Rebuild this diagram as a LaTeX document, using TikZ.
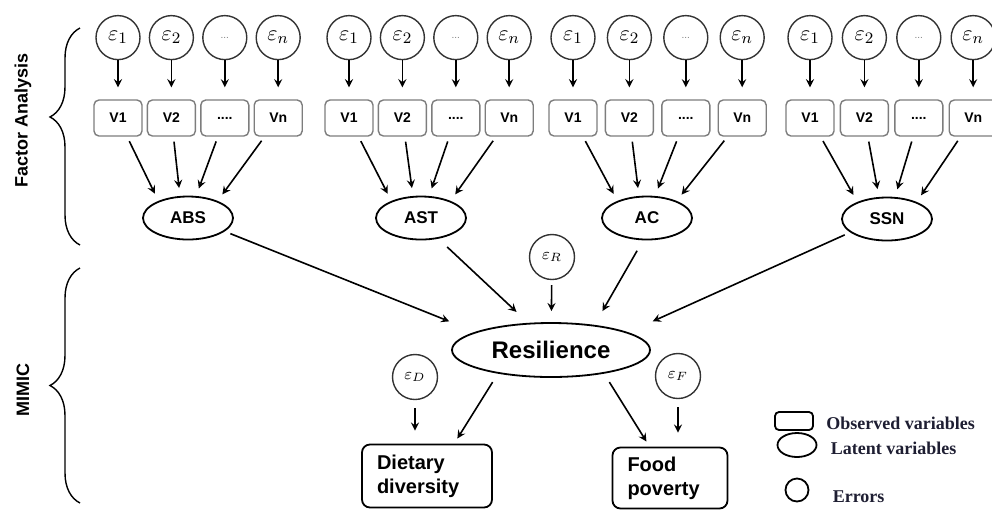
\documentclass[tikz,border=0pt]{standalone}
\usepackage{fontspec}
\setmainfont{Liberation Sans}
\newfontfamily\legendfont{Liberation Serif}
\usepackage{tikz}
\usetikzlibrary{shapes.geometric, arrows, arrows.meta, positioning, calc, decorations.pathreplacing}
\definecolor{boxgray}{RGB}{125,125,125}
\definecolor{legendink}{RGB}{30,30,50}

\begin{document}
\begin{tikzpicture}[
    x=0.5pt, y=-0.5pt,
    obs/.style={draw=boxgray, line width=0.7pt, fill=white, rounded corners=2.5pt, minimum width=24pt, minimum height=18pt, inner sep=0pt, font=\fontsize{7}{8}\selectfont\bfseries},
    err/.style={draw=black!80, line width=0.7pt, circle, minimum size=22pt, inner sep=0pt, font=\fontsize{11}{12}\selectfont},
    smallerr/.style={err, minimum size=22.5pt, font=\fontsize{8.5}{10}\selectfont},
    latent/.style={draw, line width=0.9pt, ellipse, minimum width=45pt, minimum height=21.5pt, inner sep=0pt, font=\fontsize{8.5}{10}\selectfont\bfseries},
    outcome/.style={draw, line width=0.9pt, rounded corners=4pt, align=left, inner xsep=7.5pt, font=\fontsize{10}{12}\selectfont\bfseries},
    side/.style={rotate=90, font=\fontsize{9}{10}\selectfont\bfseries},
    brace/.style={decorate, decoration={brace, amplitude=15pt}, line width=0.7pt},
    legend/.style={inner sep=0pt, text=legendink, font=\legendfont\fontsize{9}{10}\selectfont\bfseries},
    arrow/.style={->, line width=0.8pt, >=stealth},
    feed/.style={arrow, shorten <=2.5pt, shorten >=4pt}
]
    \useasboundingbox (0,0) rectangle (992,511);

    % ABS
    \node[obs] (abs1) at (118,118) {V1};
    \node[obs, right=2pt of abs1] (abs2) {V2};
    \node[obs, right=2pt of abs2] (abs3) {....};
    \node[obs, right=2pt of abs3] (abs4) {Vn};
    \node[err, above=19.5pt of abs1] (eabs1) {$\varepsilon_1$};
    \node[err, above=19.5pt of abs2] (eabs2) {$\varepsilon_2$};
    \node[err, above=19.5pt of abs3] (eabs3) {\textcolor{gray}{\fontsize{5}{5}\selectfont ...}};
    \node[err, above=19.5pt of abs4] (eabs4) {$\varepsilon_n$};
    \node[latent] (abs) at (188,218) {ABS};

    % AST
    \node[obs] (ast1) at (349,118) {V1};
    \node[obs, right=2pt of ast1] (ast2) {V2};
    \node[obs, right=2pt of ast2] (ast3) {....};
    \node[obs, right=2pt of ast3] (ast4) {Vn};
    \node[err, above=19.5pt of ast1] (east1) {$\varepsilon_1$};
    \node[err, above=19.5pt of ast2] (east2) {$\varepsilon_2$};
    \node[err, above=19.5pt of ast3] (east3) {\textcolor{gray}{\fontsize{5}{5}\selectfont ...}};
    \node[err, above=19.5pt of ast4] (east4) {$\varepsilon_n$};
    \node[latent] (ast) at (421,218) {AST};

    % AC
    \node[obs] (ac1) at (573,118) {V1};
    \node[obs, right=3.5pt of ac1] (ac2) {V2};
    \node[obs, right=3.5pt of ac2] (ac3) {....};
    \node[obs, right=3.5pt of ac3] (ac4) {Vn};
    \node[err, above=19.5pt of ac1] (eac1) {$\varepsilon_1$};
    \node[err, above=19.5pt of ac2] (eac2) {$\varepsilon_2$};
    \node[err, above=19.5pt of ac3] (eac3) {\textcolor{gray}{\fontsize{5}{5}\selectfont ...}};
    \node[err, above=19.5pt of ac4] (eac4) {$\varepsilon_n$};
    \node[latent] (ac) at (647,218) {AC};

    % SSN
    \node[obs] (ssn1) at (810,118) {V1};
    \node[obs, right=2.5pt of ssn1] (ssn2) {V2};
    \node[obs, right=2.5pt of ssn2] (ssn3) {....};
    \node[obs, right=2.5pt of ssn3] (ssn4) {Vn};
    \node[err, above=19.5pt of ssn1] (essn1) {$\varepsilon_1$};
    \node[err, above=19.5pt of ssn2] (essn2) {$\varepsilon_2$};
    \node[err, above=19.5pt of ssn3] (essn3) {\textcolor{gray}{\fontsize{5}{5}\selectfont ...}};
    \node[err, above=19.5pt of ssn4] (essn4) {$\varepsilon_n$};
    \node[latent] (ssn) at (887,219) {SSN};

    % MIMIC part
    \node[latent, minimum width=99pt, minimum height=27pt, font=\fontsize{12}{14}\selectfont\bfseries] (res) at (551,350) {Resilience};
    \node[smallerr] (eres) at (552,257) {$\varepsilon_R$};
    \node[smallerr] (ediet) at (415,377) {$\varepsilon_D$};
    \node[smallerr] (efood) at (678,376) {$\varepsilon_F$};
    \node[outcome, text width=50pt, minimum height=31.5pt] (diet) at (427,476) {Dietary\\diversity};
    \node[outcome, text width=42.5pt, minimum height=30.5pt] (food) at (670,478) {Food\\poverty};

    % errors -> observed
    \draw[arrow, shorten >=6pt] (eabs1) -- (abs1);
    \draw[arrow, shorten >=6pt] (eabs2) -- (abs2);
    \draw[arrow, shorten >=6pt] (eabs3) -- (abs3);
    \draw[arrow, shorten >=6pt] (eabs4) -- (abs4);
    \draw[arrow, shorten >=6pt] (east1) -- (ast1);
    \draw[arrow, shorten >=6pt] (east2) -- (ast2);
    \draw[arrow, shorten >=6pt] (east3) -- (ast3);
    \draw[arrow, shorten >=6pt] (east4) -- (ast4);
    \draw[arrow, shorten >=6pt] (eac1) -- (ac1);
    \draw[arrow, shorten >=6pt] (eac2) -- (ac2);
    \draw[arrow, shorten >=6pt] (eac3) -- (ac3);
    \draw[arrow, shorten >=6pt] (eac4) -- (ac4);
    \draw[arrow, shorten >=6pt] (essn1) -- (ssn1);
    \draw[arrow, shorten >=6pt] (essn2) -- (ssn2);
    \draw[arrow, shorten >=6pt] (essn3) -- (ssn3);
    \draw[arrow, shorten >=6pt] (essn4) -- (ssn4);

    % observed -> latent
    \draw[feed] (abs1) -- (abs.150);
    \draw[feed] (abs2) -- (abs.110);
    \draw[feed] (abs3) -- (abs.70);
    \draw[feed] (abs4) -- (abs.30);
    \draw[feed] (ast1) -- (ast.150);
    \draw[feed] (ast2) -- (ast.110);
    \draw[feed] (ast3) -- (ast.70);
    \draw[feed] (ast4) -- (ast.30);
    \draw[feed] (ac1) -- (ac.150);
    \draw[feed] (ac2) -- (ac.110);
    \draw[feed] (ac3) -- (ac.70);
    \draw[feed] (ac4) -- (ac.30);
    \draw[feed] (ssn1) -- (ssn.150);
    \draw[feed] (ssn2) -- (ssn.110);
    \draw[feed] (ssn3) -- (ssn.70);
    \draw[feed] (ssn4) -- (ssn.30);

    % latent -> resilience -> outcomes
    \draw[arrow, shorten <=3pt, shorten >=1pt] (abs.-20) -- (res.west |- res.north);
    \draw[arrow, shorten <=6pt, shorten >=8pt] (ast.-50) -- (res.130);
    \draw[arrow, shorten <=6pt, shorten >=8pt] (ac.-100) -- (res.30);
    \draw[arrow, shorten <=3pt, shorten >=1pt] (ssn.-160) -- (res.east |- res.north);
    \draw[arrow, shorten <=2.5pt, shorten >=5.5pt] (eres) -- (res);
    \draw[arrow, shorten <=4pt, shorten >=6.5pt] (ediet) -- (ediet |- diet.north);
    \draw[arrow, shorten <=4pt, shorten >=7pt] (efood) -- (efood |- food.north);
    \draw[arrow, shorten <=5pt, shorten >=3pt] (res.-156) -- (diet.50);
    \draw[arrow, shorten <=5pt, shorten >=3pt] (res.-24) -- (food.123);

    % braces
    \draw[brace, decoration={aspect=0.59}] (80,245) -- (80,28);
    \draw[brace] (80,503) -- (80,268);
    \node[side] (fa) at (23,120) {Factor Analysis};
    \node[side] (mimic) at (23,390) {MIMIC};

    % legend
    \node[draw, line width=0.9pt, rounded corners=2pt, minimum width=19pt, minimum height=9pt, inner sep=0pt] (lobs) at (794,421) {};
    \node[draw, line width=0.9pt, ellipse, minimum width=19.5pt, minimum height=12pt, inner sep=0pt] (llat) at (797,445) {};
    \node[draw, line width=0.9pt, circle, minimum size=11.5pt, inner sep=0pt] (lerr) at (797,490) {};
    \node[legend, right=6pt of lobs, yshift=-1pt] (tobs) {Observed variables};
    \node[legend, right=6.5pt of llat, yshift=-1.5pt] (tlat) {Latent variables};
    \node[legend, right=11.5pt of lerr, yshift=-3.5pt] (terr) {Errors};
\end{tikzpicture}
\end{document}
